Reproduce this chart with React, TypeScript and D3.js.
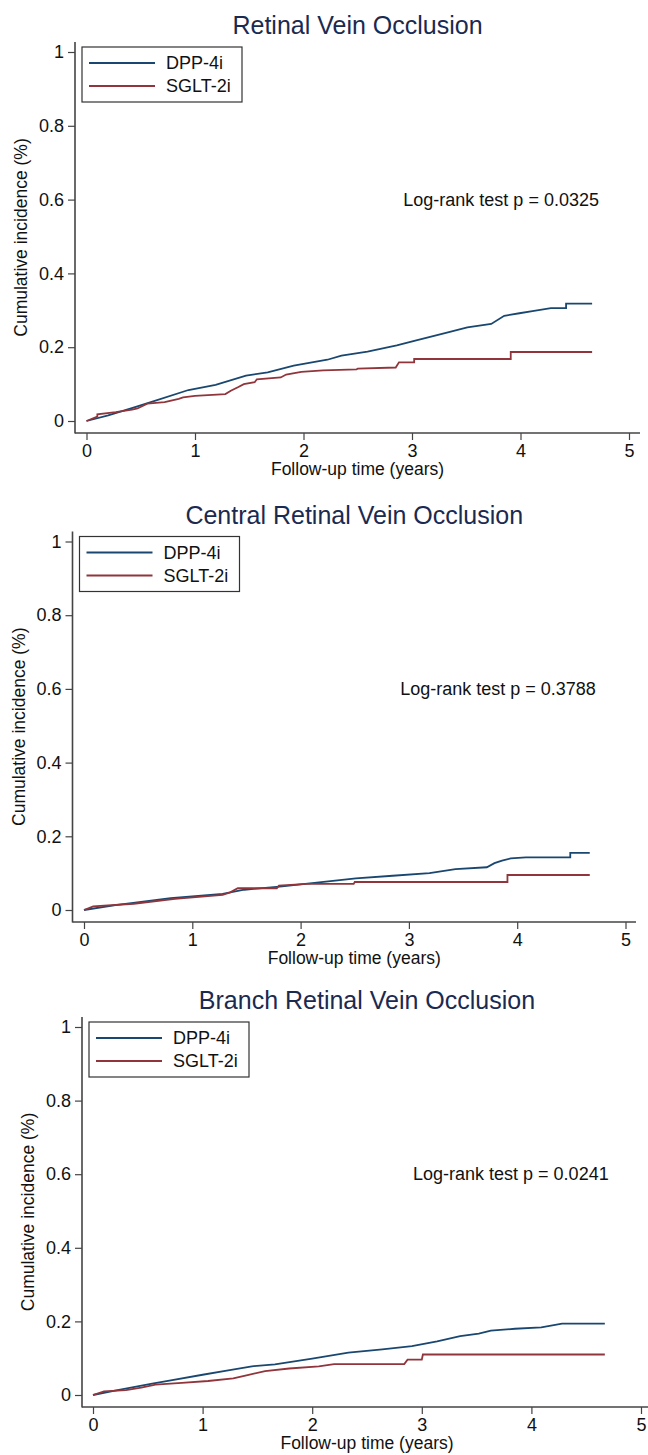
import React, { useEffect, useRef } from 'react';
import * as d3 from 'd3';

// values (t in years, cumulative incidence)
const titles = ['Retinal Vein Occlusion', 'Central Retinal Vein Occlusion', 'Branch Retinal Vein Occlusion'];
const pValues = ['0.0325', '0.3788', '0.0241'];
const seriesNames = ['DPP-4i', 'SGLT-2i'];
const xTicks = [0, 1, 2, 3, 4, 5];
const yTicks = [0, 0.2, 0.4, 0.6, 0.8, 1];

const rvoDpp: [number, number][] = [
    [0, 0], [0.2, 0.015], [0.44, 0.037], [0.6, 0.052], [0.94, 0.084], [1.19, 0.098], [1.47, 0.123],
    [1.67, 0.132], [1.91, 0.15], [2.22, 0.166], [2.35, 0.177], [2.59, 0.188], [2.86, 0.205],
    [3.03, 0.218], [3.34, 0.241], [3.51, 0.254], [3.73, 0.263], [3.85, 0.285], [3.99, 0.292],
    [4.11, 0.298], [4.28, 0.306], [4.42, 0.306], [4.42, 0.318], [4.66, 0.318],
];
const rvoSglt: [number, number][] = [
    [0, 0], [0.1, 0.012], [0.1, 0.018], [0.27, 0.024], [0.42, 0.031], [0.47, 0.034], [0.56, 0.047],
    [0.72, 0.051], [0.85, 0.06], [0.89, 0.064], [1.0, 0.068], [1.28, 0.073], [1.33, 0.082],
    [1.4, 0.092], [1.45, 0.1], [1.55, 0.105], [1.57, 0.113], [1.79, 0.118], [1.84, 0.126],
    [1.98, 0.133], [2.18, 0.137], [2.49, 0.14], [2.5, 0.142], [2.85, 0.145], [2.88, 0.159],
    [3.02, 0.159], [3.02, 0.168], [3.91, 0.168], [3.91, 0.187], [4.66, 0.187],
];
const crvoDpp: [number, number][] = [
    [0, 0], [0.29, 0.013], [0.8, 0.032], [1.28, 0.044], [1.48, 0.055], [1.83, 0.064], [2.17, 0.075],
    [2.51, 0.086], [2.85, 0.093], [3.19, 0.1], [3.43, 0.111], [3.72, 0.116], [3.79, 0.127],
    [3.86, 0.134], [3.94, 0.14], [4.08, 0.143], [4.49, 0.143], [4.49, 0.155], [4.67, 0.155],
];
const crvoSglt: [number, number][] = [
    [0, 0], [0.085, 0.01], [0.46, 0.017], [0.84, 0.03], [1.28, 0.041], [1.35, 0.048], [1.42, 0.059],
    [1.78, 0.059], [1.8, 0.066], [2.06, 0.071], [2.49, 0.071], [2.5, 0.076], [3.91, 0.076],
    [3.91, 0.095], [4.67, 0.095],
];
const brvoDpp: [number, number][] = [
    [0, 0], [0.2, 0.012], [0.54, 0.031], [0.71, 0.04], [1.0, 0.055], [1.22, 0.066], [1.45, 0.078],
    [1.66, 0.083], [2.0, 0.099], [2.33, 0.115], [2.64, 0.124], [2.91, 0.133], [3.14, 0.146],
    [3.35, 0.16], [3.52, 0.167], [3.63, 0.175], [3.85, 0.18], [4.09, 0.184], [4.28, 0.194], [4.67, 0.194],
];
const brvoSglt: [number, number][] = [
    [0, 0], [0.1, 0.01], [0.3, 0.013], [0.44, 0.02], [0.57, 0.028], [0.81, 0.033], [1.05, 0.038],
    [1.28, 0.045], [1.42, 0.055], [1.57, 0.065], [1.79, 0.072], [2.06, 0.078], [2.2, 0.084],
    [2.84, 0.084], [2.87, 0.096], [3.0, 0.096], [3.01, 0.11], [4.67, 0.11],
];

const curves = [[rvoDpp, rvoSglt], [crvoDpp, crvoSglt], [brvoDpp, brvoSglt]];
const colors = ['#1a476f', '#90353b'];

// pixel layout of each panel
const layouts = [
    { axisX: 75, x0: 86.5, x5: 629, y1: 52, y0: 421, axisY: 433, axisRight: 640, titleY: 25 },
    { axisX: 72.5, x0: 84, x5: 625.5, y1: 541.5, y0: 910, axisY: 922, axisRight: 636, titleY: 515 },
    { axisX: 82, x0: 93, x5: 641, y1: 1027, y0: 1395, axisY: 1407, axisRight: 652, titleY: 1000 },
];

const font = "'Liberation Sans', Arial, sans-serif";

export default function App() {
    const ref = useRef<SVGSVGElement>(null);

    useEffect(() => {
        const svg = d3.select(ref.current);
        svg.selectAll('*').remove();

        layouts.forEach((L, i) => {
            const g = svg.append('g');
            const x = d3.scaleLinear().domain([0, 5]).range([L.x0, L.x5]);
            const y = d3.scaleLinear().domain([0, 1]).range([L.y0, L.y1]);

            // title
            g.append('text')
                .attr('x', (L.axisX + L.axisRight) / 2)
                .attr('y', L.titleY)
                .attr('text-anchor', 'middle')
                .attr('dominant-baseline', 'central')
                .style('font-family', font)
                .style('font-size', '25px')
                .style('fill', '#1b2a50')
                .text(titles[i]);

            // axes
            const yAxis = g.append('g')
                .attr('transform', `translate(${L.axisX},0)`)
                .call(d3.axisLeft(y).tickValues(yTicks).tickFormat(d3.format('~g')).tickSize(7).tickPadding(4));
            const xAxis = g.append('g')
                .attr('transform', `translate(0,${L.axisY})`)
                .call(d3.axisBottom(x).tickValues(xTicks).tickFormat(d3.format('d')).tickSize(7).tickPadding(4));
            [yAxis, xAxis].forEach(a => {
                a.select('.domain').remove();
                a.selectAll('line').attr('stroke', '#444').attr('stroke-width', 1.2);
                a.selectAll('text')
                    .style('font-family', font)
                    .style('font-size', '18px')
                    .style('fill', '#111');
            });

            g.append('line')
                .attr('x1', L.axisX).attr('x2', L.axisX)
                .attr('y1', L.y1 - 10).attr('y2', L.axisY + 0.6)
                .attr('stroke', '#444').attr('stroke-width', 1.6);
            g.append('line')
                .attr('x1', L.axisX).attr('x2', L.axisRight)
                .attr('y1', L.axisY).attr('y2', L.axisY)
                .attr('stroke', '#444').attr('stroke-width', 1.6);

            // axis titles
            g.append('text')
                .attr('transform', `translate(${L.axisX - 54},${(L.y1 - 10 + L.axisY) / 2}) rotate(-90)`)
                .attr('text-anchor', 'middle')
                .attr('dominant-baseline', 'central')
                .style('font-family', font)
                .style('font-size', '17.5px')
                .style('fill', '#111')
                .text('Cumulative incidence (%)');
            g.append('text')
                .attr('x', (L.axisX + L.axisRight) / 2)
                .attr('y', L.axisY + 36)
                .attr('text-anchor', 'middle')
                .attr('dominant-baseline', 'central')
                .style('font-family', font)
                .style('font-size', '17.5px')
                .style('fill', '#111')
                .text('Follow-up time (years)');

            // curves
            const line = d3.line<[number, number]>()
                .x(d => x(d[0]))
                .y(d => y(d[1]));
            curves[i].forEach((c, k) => {
                g.append('path')
                    .attr('d', line(c))
                    .attr('fill', 'none')
                    .attr('stroke', colors[k])
                    .attr('stroke-width', 1.8);
            });

            // log-rank annotation
            g.append('text')
                .attr('x', x(2.92))
                .attr('y', y(0.6))
                .attr('dominant-baseline', 'central')
                .style('font-family', font)
                .style('font-size', '18px')
                .style('fill', '#111')
                .text(`Log-rank test p = ${pValues[i]}`);

            // legend
            const lx = L.axisX + 7;
            const ly = L.y1 - 5;
            g.append('rect')
                .attr('x', lx).attr('y', ly)
                .attr('width', 160).attr('height', 55)
                .attr('fill', 'white')
                .attr('stroke', '#333')
                .attr('stroke-width', 1.2);
            seriesNames.forEach((name, k) => {
                const ry = L.y1 + 11 + k * 23;
                g.append('line')
                    .attr('x1', lx + 7).attr('x2', lx + 73)
                    .attr('y1', ry).attr('y2', ry)
                    .attr('stroke', colors[k])
                    .attr('stroke-width', 1.8);
                g.append('text')
                    .attr('x', lx + 84)
                    .attr('y', ry)
                    .attr('dominant-baseline', 'central')
                    .style('font-family', font)
                    .style('font-size', '18px')
                    .style('fill', '#111')
                    .text(name);
            });
        });
    }, []);

    return (
        <svg
            ref={ref}
            width={648}
            height={1455}
            style={{ position: 'absolute', left: 0, top: 0, background: 'white' }}
        />
    );
}
